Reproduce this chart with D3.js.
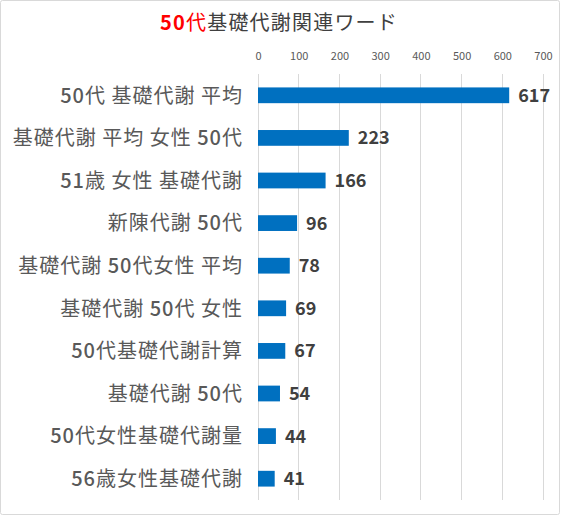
<!DOCTYPE html>
<html><head><meta charset="utf-8">
<script src="https://cdn.jsdelivr.net/npm/d3@7"></script>
<style>body{margin:0;background:#fff}svg{display:block}</style>
</head><body>
<script>
const categories = ["50代 基礎代謝 平均","基礎代謝 平均 女性 50代","51歳 女性 基礎代謝","新陳代謝 50代","基礎代謝 50代女性 平均","基礎代謝 50代 女性","50代基礎代謝計算","基礎代謝 50代","50代女性基礎代謝量","56歳女性基礎代謝"];
const values = [617,223,166,96,78,69,67,54,44,41];
const tickValues = [0,100,200,300,400,500,600,700];

(function(){
const W=561,H=516;
const svg=d3.select("body").append("svg").attr("width",W).attr("height",H);
svg.append("rect").attr("x",0.5).attr("y",0.5).attr("width",W-2).attr("height",H-2)
  .attr("fill","#fff").attr("stroke","#d9d9d9").attr("rx",2);

const font="'Noto Sans CJK JP','Noto Sans',sans-serif";
const pl=258,pr=543,pt=74,pb=500;
const x=d3.scaleLinear().domain([0,700]).range([pl,pr]);
const y=d3.scaleBand().domain(categories).range([pt,pb]).paddingInner(0.63).paddingOuter(0.315);

const title=svg.append("text").attr("x",279).attr("y",30).attr("text-anchor","middle")
  .attr("font-family",font).attr("font-size",20).attr("letter-spacing",1.2);
title.append("tspan").attr("fill","#ff0000").attr("font-weight","bold").text("50");
title.append("tspan").attr("fill","#ff0000").text("代");
title.append("tspan").attr("fill","#404040").text("基礎代謝関連ワード");

svg.append("g").selectAll("line").data(tickValues).join("line")
  .attr("x1",d=>x(d)).attr("x2",d=>x(d)).attr("y1",pt).attr("y2",pb)
  .attr("stroke","#d9d9d9").attr("stroke-width",1).attr("shape-rendering","crispEdges");

const ax=svg.append("g").attr("transform",`translate(0,${60})`)
  .call(d3.axisTop(x).tickValues(tickValues).tickSize(0).tickPadding(0));
ax.select(".domain").remove();
ax.selectAll("text").attr("font-family",font).attr("font-size",11).attr("fill","#595959");

svg.append("g").selectAll("rect").data(values).join("rect")
  .attr("x",x(0)).attr("y",(d,i)=>y(categories[i])).attr("width",d=>x(d)-x(0))
  .attr("height",y.bandwidth()).attr("fill","#0070c0");

svg.append("g").selectAll("text").data(values).join("text")
  .attr("x",d=>x(d)+9).attr("y",(d,i)=>y(categories[i])+y.bandwidth()/2)
  .attr("dy","0.36em").attr("font-family",font).attr("font-size",18).attr("font-weight","bold")
  .attr("fill","#404040").text(d=>d);

const cl=svg.append("g").selectAll("text").data(categories).join("text")
  .attr("x",243).attr("y",d=>y(d)+y.bandwidth()/2).attr("dy","0.36em")
  .attr("text-anchor","end").attr("font-family",font).attr("font-size",20)
  .attr("letter-spacing",1).attr("fill","#595959");
cl.each(function(d){
  const t=d3.select(this);
  d.split(/(\d+)/).filter(s=>s.length).forEach(s=>{
    const sp=t.append("tspan").text(s);
    if(/^\d+$/.test(s)) sp.attr("font-weight",500);
  });
});
})();
</script>
</body></html>
